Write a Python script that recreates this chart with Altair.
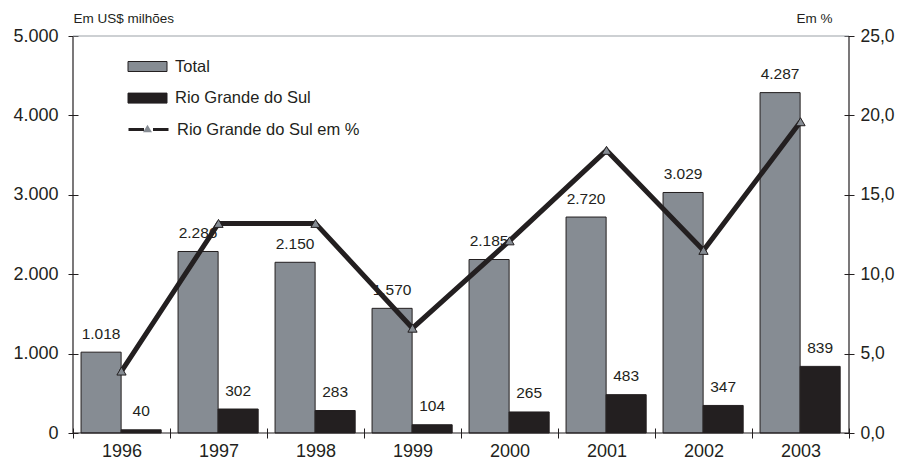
import altair as alt
import pandas as pd

years = ["1996", "1997", "1998", "1999", "2000", "2001", "2002", "2003"]
total = [1018, 2286, 2150, 1570, 2185, 2720, 3029, 4287]
rgs = [40, 302, 283, 104, 265, 483, 347, 839]
rgs_pct = [3.9, 13.2, 13.2, 6.6, 12.1, 17.8, 11.5, 19.6]

money_ticks = [0, 500, 1000, 1500, 2000, 2500, 3000, 3500, 4000, 4500, 5000]
pct_ticks = [0, 5, 10, 15, 20, 25]

S_TOTAL = "Total"
S_RGS = "Rio Grande do Sul"
S_PCT = "Rio Grande do Sul em %"

GREY = "#868c93"
DARK = "#231f20"
FONT = "Liberation Sans"

bars_df = pd.DataFrame(
    {
        "year": years * 2,
        "idx": list(range(len(years))) * 2,
        "k": [0] * len(years) + [1] * len(years),
        "series": [S_TOTAL] * len(years) + [S_RGS] * len(years),
        "value": total + rgs,
    }
)
pct_df = pd.DataFrame(
    {
        "year": years,
        "idx": list(range(len(years))),
        "pct": rgs_pct,
        "line_series": S_PCT,
        "marker_series": S_PCT,
    }
)
one = pd.DataFrame({"a": [0]})

W = 776
H = 397
BAND = W / len(years)

xscale = alt.Scale(domain=[0, len(years)], nice=False, zero=False, padding=0)
year_expr = "[" + ",".join("'%s'" % y for y in years) + ",''][datum.value]"

x_axis = alt.Axis(
    values=list(range(len(years) + 1)),
    labelExpr=year_expr,
    labelOffset=BAND / 2,
    labelFlush=False,
    labelAlign="center",
    labelFontSize=18,
    labelColor=DARK,
    labelFont=FONT,
    labelPadding=4,
    tickSize=10,
    tickColor=DARK,
    offset=-5,
    domain=False,
    grid=False,
    title=None,
)

y_money = alt.Y(
    "value:Q",
    scale=alt.Scale(domain=[0, 5000], nice=False, padding=0),
    axis=alt.Axis(
        values=money_ticks,
        labelExpr="replace(format(datum.value, ',d'), ',', '.')",
        orient="left",
        labelFontSize=18,
        labelFont=FONT,
        labelColor=DARK,
        labelPadding=10,
        tickSize=10,
        tickColor=DARK,
        offset=-5,
        domain=False,
        grid=False,
        title="Em US$ milhões",
        titleFont=FONT,
        titleFontSize=13.5,
        titleFontWeight="normal",
        titleColor=DARK,
        titleAngle=0,
        titleAlign="left",
        titleBaseline="alphabetic",
        titleX=-5,
        titleY=-14,
    ),
)

bars = (
    alt.Chart(bars_df)
    .transform_calculate(xs="datum.idx + 0.083 + datum.k * 0.413", xe="datum.idx + 0.083 + datum.k * 0.413 + 0.413")
    .mark_rect(stroke=DARK, strokeWidth=1)
    .encode(
        x=alt.X("xs:Q", scale=xscale, axis=x_axis),
        x2="xe:Q",
        y=y_money,
        y2=alt.datum(0),
        fill=alt.Fill(
            "series:N",
            scale=alt.Scale(domain=[S_TOTAL, S_RGS], range=[GREY, DARK]),
            legend=alt.Legend(
                title=None,
                orient="none",
                legendX=64,
                legendY=20,
                direction="vertical",
                symbolType="M-1.95,-0.5H1.95V0.5H-1.95Z",
                symbolSize=400,
                symbolStrokeColor=DARK,
                symbolStrokeWidth=1,
                labelFontSize=16.5,
                labelFont=FONT,
                labelColor=DARK,
                labelOffset=17,
                labelLimit=400,
                rowPadding=12.6,
                padding=0,
            ),
        ),
    )
)

texts = (
    alt.Chart(bars_df)
    .transform_calculate(
        xm="datum.idx + 0.083 + datum.k * 0.413 + 0.2065",
        lab="replace(format(datum.value, ',d'), ',', '.')",
    )
    .mark_text(font=FONT, fontSize=15.5, color=DARK, baseline="alphabetic", dy=-13.5)
    .encode(x=alt.X("xm:Q", scale=xscale), y=alt.Y("value:Q"), text="lab:N")
)

rule_left = alt.Chart(one).mark_rule(color=DARK, strokeWidth=1.2).encode(
    x=alt.datum(0), y=alt.datum(0), y2=alt.datum(5000)
)
rule_bottom = alt.Chart(one).mark_rule(color=DARK, strokeWidth=1.2).encode(
    x=alt.datum(0), x2=alt.datum(len(years)), y=alt.datum(0)
)
rule_top = alt.Chart(one).mark_rule(color="#9ba1a7", strokeWidth=1.2).encode(
    x=alt.datum(0), x2=alt.datum(len(years)), y=alt.datum(5000)
)

money = alt.layer(bars, texts, rule_left, rule_bottom, rule_top)

y_pct = alt.Y(
    "pct:Q",
    scale=alt.Scale(domain=[0, 25], nice=False, padding=0),
    axis=alt.Axis(
        values=pct_ticks,
        labelExpr="replace(format(datum.value, '.1f'), '.', ',')",
        orient="right",
        labelFontSize=17.5,
        labelFont=FONT,
        labelColor=DARK,
        labelPadding=6,
        tickSize=10,
        tickColor=DARK,
        offset=-5,
        domain=False,
        grid=False,
        title="Em %",
        titleFont=FONT,
        titleFontSize=13.5,
        titleFontWeight="normal",
        titleColor=DARK,
        titleAngle=0,
        titleAlign="right",
        titleBaseline="alphabetic",
        titleX=-12,
        titleY=-14,
    ),
)

line = (
    alt.Chart(pct_df)
    .transform_calculate(xc="datum.idx + 0.5")
    .mark_line(strokeWidth=5, strokeJoin="miter")
    .encode(
        x=alt.X("xc:Q", scale=xscale),
        y=y_pct,
        stroke=alt.Stroke(
            "line_series:N",
            scale=alt.Scale(range=[DARK]),
            legend=alt.Legend(
                title=None,
                orient="none",
                legendX=64,
                legendY=82,
                symbolType="M-2,0H-0.45M0.45,0H2",
                symbolSize=400,
                symbolStrokeWidth=3,
                labelFontSize=16.5,
                labelFont=FONT,
                labelColor=DARK,
                labelOffset=17,
                labelLimit=400,
                padding=0,
            ),
        ),
    )
)

points = (
    alt.Chart(pct_df)
    .transform_calculate(xc="datum.idx + 0.5")
    .mark_point(filled=True, fill=GREY, stroke=DARK, strokeWidth=1, size=85, opacity=1)
    .encode(
        x=alt.X("xc:Q", scale=xscale),
        y=alt.Y("pct:Q"),
        shape=alt.Shape(
            "marker_series:N",
            scale=alt.Scale(range=["triangle-up"]),
            legend=alt.Legend(
                title=None,
                orient="none",
                legendX=69.5,
                legendY=87.5,
                symbolSize=80,
                symbolFillColor=GREY,
                symbolStrokeColor=DARK,
                symbolStrokeWidth=1,
                symbolOpacity=1,
                labelFontSize=1,
                labelOpacity=0,
                labelOffset=0,
                padding=0,
            ),
        ),
    )
)

rule_right = alt.Chart(one).mark_rule(color=DARK, strokeWidth=1.2).encode(
    x=alt.datum(len(years)), y=alt.datum(0), y2=alt.datum(25)
)

pct = alt.layer(line, points, rule_right)

chart = (
    alt.layer(money, pct)
    .resolve_scale(y="independent")
    .properties(
        width=W,
        height=H,
        padding={"left": 65, "top": 28, "right": 46, "bottom": 30},
        autosize=alt.AutoSizeParams(type="none"),
        background="white",
    )
    .configure_view(stroke=None)
)

chart.save("out.html", embed_options={"renderer": "svg", "actions": False})
